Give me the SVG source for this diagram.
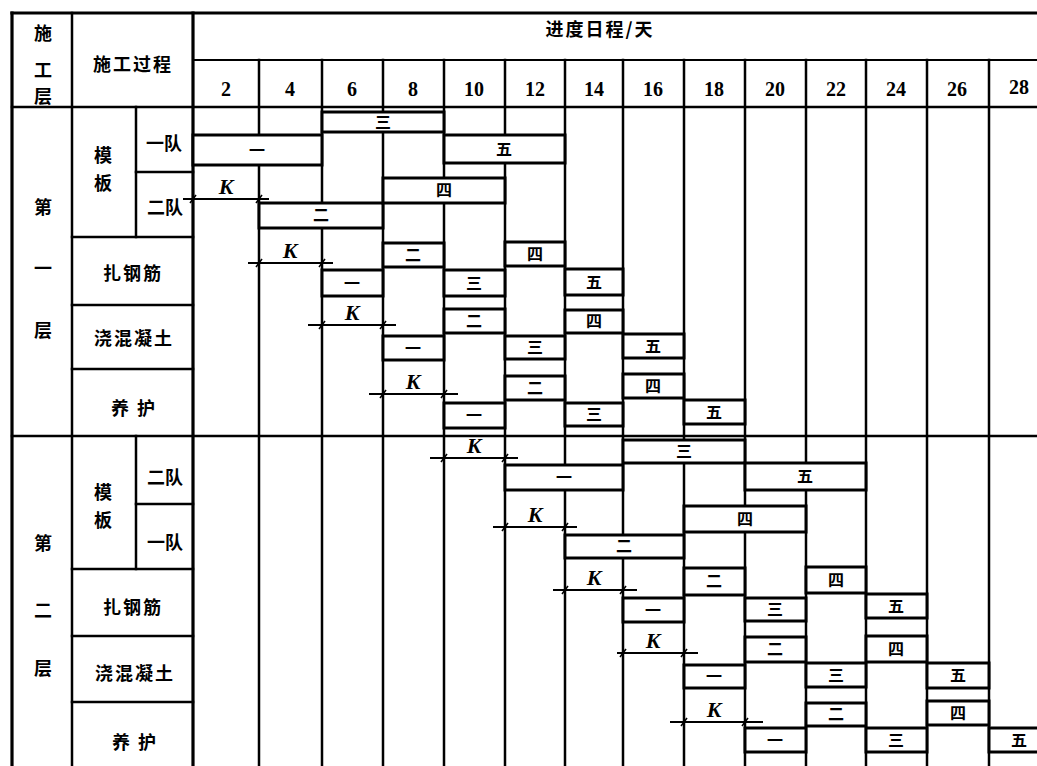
<svg xmlns="http://www.w3.org/2000/svg" width="1037" height="766" viewBox="0 0 1037 766">
<style>
.bg{fill:#fff}
.ln{stroke:#000;stroke-width:2.5;fill:none;stroke-linecap:square}
.thk{stroke:#000;stroke-width:3.2;fill:none;stroke-linecap:square}
.thn{stroke:#000;stroke-width:2;fill:none}
.bar rect{fill:#fff;stroke:#000;stroke-width:3}
.cjk{font-family:"Noto Sans CJK SC","Noto Sans CJK JP",sans-serif;font-weight:700;font-size:18px;fill:#000;text-anchor:middle}
.bl{font-family:"Noto Sans CJK SC","Noto Sans CJK JP",sans-serif;font-weight:700;font-size:16px;fill:#000;text-anchor:middle}
.num{font-family:"Liberation Serif",serif;font-weight:700;font-size:20px;fill:#000;text-anchor:middle}
.k{font-family:"Liberation Serif",serif;font-weight:700;font-style:italic;font-size:22px;fill:#000;text-anchor:middle}
.dim{stroke:#000;stroke-width:2;fill:none}
</style>
<defs>
<marker id="tick" viewBox="-5 -5 10 10" markerWidth="10" markerHeight="10" markerUnits="userSpaceOnUse" orient="0">
<path d="M-3,4 L3,-4" stroke="#000" stroke-width="1.6"/>
</marker>
</defs>
<rect class="bg" x="0" y="0" width="1037" height="766"/>

<g id="grid">
<line class="thk" x1="12" y1="13" x2="1037" y2="13"/>
<line class="thk" x1="12" y1="13" x2="12" y2="766"/>
<line class="ln" x1="72" y1="13" x2="72" y2="766"/>
<line class="thk" x1="193" y1="13" x2="193" y2="766"/>
<line class="thn" x1="193" y1="60" x2="1037" y2="60"/>
<line class="ln" x1="12" y1="107" x2="1037" y2="107"/>
<line class="ln" x1="12" y1="436" x2="1037" y2="436"/>
<line class="ln" x1="136" y1="107" x2="136" y2="237"/>
<line class="ln" x1="136" y1="436" x2="136" y2="569"/>
<line class="ln" x1="136" y1="172" x2="193" y2="172"/>
<line class="ln" x1="72" y1="237" x2="193" y2="237"/>
<line class="ln" x1="72" y1="305" x2="193" y2="305"/>
<line class="ln" x1="72" y1="369" x2="193" y2="369"/>
<line class="ln" x1="136" y1="504" x2="193" y2="504"/>
<line class="ln" x1="72" y1="569" x2="193" y2="569"/>
<line class="ln" x1="72" y1="636" x2="193" y2="636"/>
<line class="ln" x1="72" y1="702" x2="193" y2="702"/>
<line class="ln" x1="259" y1="60" x2="259" y2="766"/>
<line class="ln" x1="322" y1="60" x2="322" y2="766"/>
<line class="ln" x1="383" y1="60" x2="383" y2="766"/>
<line class="ln" x1="444" y1="60" x2="444" y2="766"/>
<line class="ln" x1="505" y1="60" x2="505" y2="766"/>
<line class="ln" x1="565" y1="60" x2="565" y2="766"/>
<line class="ln" x1="623" y1="60" x2="623" y2="766"/>
<line class="ln" x1="684" y1="60" x2="684" y2="766"/>
<line class="ln" x1="745" y1="60" x2="745" y2="766"/>
<line class="ln" x1="806" y1="60" x2="806" y2="766"/>
<line class="ln" x1="866" y1="60" x2="866" y2="766"/>
<line class="ln" x1="927" y1="60" x2="927" y2="766"/>
<line class="ln" x1="989" y1="60" x2="989" y2="766"/>
</g>

<g id="header">
<text class="cjk" x="43" y="40">施</text>
<text class="cjk" x="43" y="77">工</text>
<text class="cjk" x="43" y="103">层</text>
<text class="cjk" x="133" y="71" letter-spacing="2">施工过程</text>
<text class="cjk" x="600" y="36" letter-spacing="2">进度日程/天</text>
<text class="num" x="226" y="96">2</text>
<text class="num" x="290" y="96">4</text>
<text class="num" x="352" y="96">6</text>
<text class="num" x="413" y="96">8</text>
<text class="num" x="474" y="96">10</text>
<text class="num" x="535" y="96">12</text>
<text class="num" x="594" y="96">14</text>
<text class="num" x="653" y="96">16</text>
<text class="num" x="714" y="96">18</text>
<text class="num" x="775" y="96">20</text>
<text class="num" x="836" y="96">22</text>
<text class="num" x="896" y="96">24</text>
<text class="num" x="957" y="96">26</text>
<text class="num" x="1019" y="94">28</text>
</g>

<g id="labels-layer1">
<text class="cjk" x="43" y="214">第</text>
<text class="cjk" x="43" y="275">一</text>
<text class="cjk" x="43" y="337">层</text>
<text class="cjk" x="103" y="162">模</text>
<text class="cjk" x="103" y="190">板</text>
<text class="cjk" x="164" y="150">一队</text>
<text class="cjk" x="165" y="214">二队</text>
<text class="cjk" x="133" y="280" letter-spacing="2">扎钢筋</text>
<text class="cjk" x="134" y="345" letter-spacing="2">浇混凝土</text>
<text class="cjk" x="134" y="415" letter-spacing="2">养 护</text>
</g>
<g id="labels-layer2">
<text class="cjk" x="43" y="550">第</text>
<text class="cjk" x="43" y="617">二</text>
<text class="cjk" x="43" y="675">层</text>
<text class="cjk" x="103" y="499">模</text>
<text class="cjk" x="103" y="527">板</text>
<text class="cjk" x="165" y="484">二队</text>
<text class="cjk" x="165" y="549">一队</text>
<text class="cjk" x="133" y="614" letter-spacing="2">扎钢筋</text>
<text class="cjk" x="135" y="680" letter-spacing="2">浇混凝土</text>
<text class="cjk" x="135" y="749" letter-spacing="2">养 护</text>
</g>

<g id="connectors">
<polyline class="dim" points="183,199 193,199 259,199 269,199" marker-mid="url(#tick)"/>
<polyline class="dim" points="248,263 259,263 322,263 333,263" marker-mid="url(#tick)"/>
<polyline class="dim" points="308,325 322,325 383,325 396,325" marker-mid="url(#tick)"/>
<polyline class="dim" points="369,394 383,394 444,394 458,394" marker-mid="url(#tick)"/>
<polyline class="dim" points="430,458 444,458 505,458 518,458" marker-mid="url(#tick)"/>
<polyline class="dim" points="493,527 505,527 565,527 577,527" marker-mid="url(#tick)"/>
<polyline class="dim" points="553,590 565,590 623,590 637,590" marker-mid="url(#tick)"/>
<polyline class="dim" points="617,653 623,653 684,653 698,653" marker-mid="url(#tick)"/>
<polyline class="dim" points="670,722 684,722 745,722 763,722" marker-mid="url(#tick)"/>
<text class="k" x="226" y="194">K</text>
<text class="k" x="290" y="258">K</text>
<text class="k" x="352" y="320">K</text>
<text class="k" x="413" y="389">K</text>
<text class="k" x="474" y="453">K</text>
<text class="k" x="535" y="522">K</text>
<text class="k" x="594" y="585">K</text>
<text class="k" x="653" y="648">K</text>
<text class="k" x="714" y="717">K</text>
</g>

<g id="bars-l1-team1" class="bar">
<g id="l1-mb1-1"><rect x="193" y="135" width="129" height="30"/><text class="bl" x="257" y="156">一</text></g>
<g id="l1-mb1-3"><rect x="322" y="112" width="122" height="20"/><text class="bl" x="383" y="128">三</text></g>
<g id="l1-mb1-5"><rect x="444" y="135" width="121" height="28"/><text class="bl" x="504" y="155">五</text></g>
</g>
<g id="bars-l1-team2" class="bar">
<g id="l1-mb2-2"><rect x="259" y="203" width="124" height="25"/><text class="bl" x="321" y="221">二</text></g>
<g id="l1-mb2-4"><rect x="383" y="178" width="122" height="25"/><text class="bl" x="444" y="196">四</text></g>
</g>
<g id="bars-l1-rebar" class="bar">
<g id="l1-gj-1"><rect x="322" y="270" width="61" height="26"/><text class="bl" x="352" y="289">一</text></g>
<g id="l1-gj-2"><rect x="383" y="243" width="61" height="24"/><text class="bl" x="413" y="261">二</text></g>
<g id="l1-gj-3"><rect x="444" y="270" width="61" height="26"/><text class="bl" x="474" y="289">三</text></g>
<g id="l1-gj-4"><rect x="505" y="242" width="60" height="24"/><text class="bl" x="535" y="260">四</text></g>
<g id="l1-gj-5"><rect x="565" y="269" width="58" height="26"/><text class="bl" x="594" y="288">五</text></g>
</g>
<g id="bars-l1-concrete" class="bar">
<g id="l1-hnt-1"><rect x="383" y="336" width="61" height="24"/><text class="bl" x="413" y="354">一</text></g>
<g id="l1-hnt-2"><rect x="444" y="309" width="61" height="24"/><text class="bl" x="474" y="327">二</text></g>
<g id="l1-hnt-3"><rect x="505" y="336" width="60" height="23"/><text class="bl" x="535" y="353">三</text></g>
<g id="l1-hnt-4"><rect x="565" y="310" width="58" height="23"/><text class="bl" x="594" y="327">四</text></g>
<g id="l1-hnt-5"><rect x="623" y="334" width="61" height="24"/><text class="bl" x="653" y="352">五</text></g>
</g>
<g id="bars-l1-curing" class="bar">
<g id="l1-yh-1"><rect x="444" y="403" width="61" height="25"/><text class="bl" x="474" y="421">一</text></g>
<g id="l1-yh-2"><rect x="505" y="376" width="60" height="24"/><text class="bl" x="535" y="394">二</text></g>
<g id="l1-yh-3"><rect x="565" y="403" width="58" height="23"/><text class="bl" x="594" y="420">三</text></g>
<g id="l1-yh-4"><rect x="623" y="374" width="61" height="24"/><text class="bl" x="653" y="392">四</text></g>
<g id="l1-yh-5"><rect x="684" y="400" width="61" height="24"/><text class="bl" x="714" y="418">五</text></g>
</g>

<g id="bars-l2-team2" class="bar">
<g id="l2-mb2-1"><rect x="505" y="465" width="118" height="25"/><text class="bl" x="564" y="483">一</text></g>
<g id="l2-mb2-3"><rect x="623" y="440" width="122" height="23"/><text class="bl" x="684" y="457">三</text></g>
<g id="l2-mb2-5"><rect x="745" y="463" width="121" height="27"/><text class="bl" x="805" y="482">五</text></g>
</g>
<g id="bars-l2-team1" class="bar">
<g id="l2-mb1-2"><rect x="565" y="535" width="119" height="23"/><text class="bl" x="624" y="552">二</text></g>
<g id="l2-mb1-4"><rect x="684" y="506" width="122" height="26"/><text class="bl" x="745" y="525">四</text></g>
</g>
<g id="bars-l2-rebar" class="bar">
<g id="l2-gj-1"><rect x="623" y="598" width="61" height="24"/><text class="bl" x="653" y="616">一</text></g>
<g id="l2-gj-2"><rect x="684" y="568" width="61" height="27"/><text class="bl" x="714" y="587">二</text></g>
<g id="l2-gj-3"><rect x="745" y="598" width="61" height="23"/><text class="bl" x="775" y="615">三</text></g>
<g id="l2-gj-4"><rect x="806" y="567" width="60" height="26"/><text class="bl" x="836" y="586">四</text></g>
<g id="l2-gj-5"><rect x="866" y="594" width="61" height="24"/><text class="bl" x="896" y="612">五</text></g>
</g>
<g id="bars-l2-concrete" class="bar">
<g id="l2-hnt-1"><rect x="684" y="665" width="61" height="23"/><text class="bl" x="714" y="682">一</text></g>
<g id="l2-hnt-2"><rect x="745" y="637" width="61" height="25"/><text class="bl" x="775" y="655">二</text></g>
<g id="l2-hnt-3"><rect x="806" y="663" width="60" height="24"/><text class="bl" x="836" y="681">三</text></g>
<g id="l2-hnt-4"><rect x="866" y="636" width="61" height="26"/><text class="bl" x="896" y="655">四</text></g>
<g id="l2-hnt-5"><rect x="927" y="663" width="62" height="25"/><text class="bl" x="958" y="681">五</text></g>
</g>
<g id="bars-l2-curing" class="bar">
<g id="l2-yh-1"><rect x="745" y="728" width="61" height="24"/><text class="bl" x="775" y="746">一</text></g>
<g id="l2-yh-2"><rect x="806" y="703" width="60" height="23"/><text class="bl" x="836" y="720">二</text></g>
<g id="l2-yh-3"><rect x="866" y="728" width="61" height="24"/><text class="bl" x="896" y="746">三</text></g>
<g id="l2-yh-4"><rect x="927" y="701" width="62" height="24"/><text class="bl" x="958" y="719">四</text></g>
<g id="l2-yh-5"><rect x="989" y="728" width="60" height="24"/><text class="bl" x="1019" y="746">五</text></g>
</g>
</svg>
